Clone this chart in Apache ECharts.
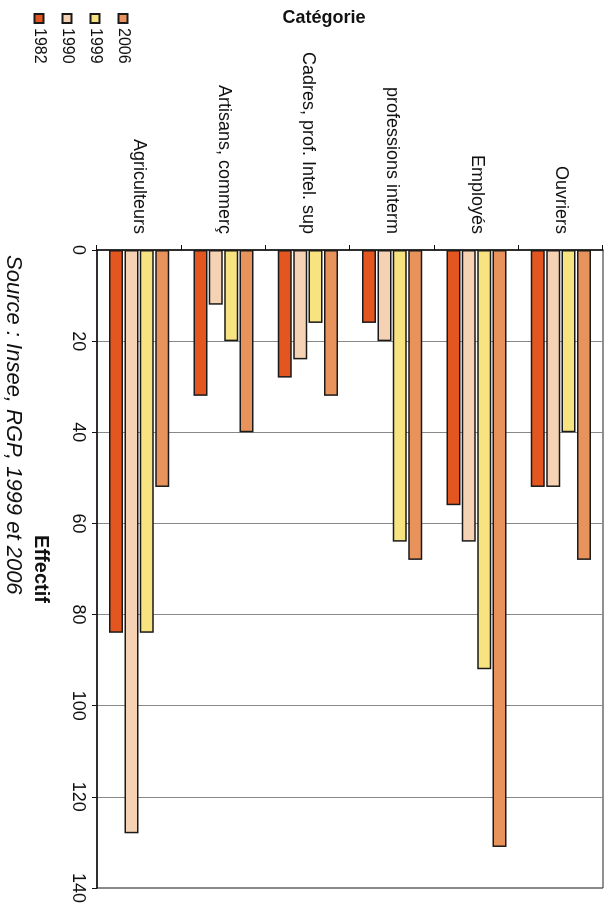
<!DOCTYPE html>
<html>
<head>
<meta charset="utf-8">
<script src="https://cdn.jsdelivr.net/npm/echarts@6/dist/echarts.min.js"></script>
<style>
html, body { margin:0; padding:0; width:606px; height:906px; overflow:hidden; background:#fff; }
#c { position:absolute; left:0; top:0; width:906px; height:606px; transform-origin:0 0; transform:translate(606px,0) rotate(90deg); }
</style>
</head>
<body>
<div id="c"></div>
<script>
const categories = ['Agriculteurs', 'Artisans, commerç', 'Cadres, prof. Intel. sup', 'professions interm', 'Employés', 'Ouvriers'];
const years = ['1982', '1990', '1999', '2006'];
const v1982 = [84, 32, 28, 16, 56, 52];
const v1990 = [128, 12, 24, 20, 64, 52];
const v1999 = [84, 20, 16, 64, 92, 40];
const v2006 = [52, 40, 32, 68, 131, 68];
const valueTicks = [0, 20, 40, 60, 80, 100, 120, 140];
const colors = ['#e4561f', '#f6d2b4', '#f7e380', '#e9935c'];
const FONT = "'Liberation Sans', Arial, sans-serif";

const chart = echarts.init(document.getElementById('c'), null, { renderer: 'canvas' });
const seriesValues = [v1982, v1990, v1999, v2006];
// horizontal layout places the first series at the top of each band, so add them in reverse
const order = [3, 2, 1, 0];
const option = {
  backgroundColor: '#ffffff',
  animation: false,
  textStyle: { fontFamily: FONT },
  grid: { left: 250, right: 18, top: 3, bottom: 97, show: true, borderColor: '#222', borderWidth: 1, backgroundColor: 'transparent' },
  legend: {
    orient: 'vertical', left: 8, top: 470,
    data: ['2006', '1999', '1990', '1982'],
    itemWidth: 9, itemHeight: 9, itemGap: 12,
    icon: 'rect',
    textStyle: { fontSize: 16, color: '#111', fontFamily: FONT }
  },
  xAxis: {
    type: 'value', min: valueTicks[0], max: valueTicks[valueTicks.length - 1], interval: 20,
    name: 'Effectif', nameLocation: 'middle', nameGap: 46,
    nameTextStyle: { fontSize: 20, fontWeight: 'bold', color: '#111', fontFamily: FONT },
    axisLine: { show: true, lineStyle: { color: '#111', width: 1.5 } },
    axisTick: { show: true, length: 5, lineStyle: { color: '#111' } },
    axisLabel: { fontSize: 18, color: '#111', margin: 10, fontFamily: FONT },
    splitLine: { show: true, lineStyle: { color: '#888', width: 1 } }
  },
  yAxis: {
    type: 'category', data: categories,
    axisLine: { show: true, lineStyle: { color: '#111', width: 1.5 } },
    axisTick: { show: true, length: 5, lineStyle: { color: '#111' } },
    axisLabel: { fontSize: 18, color: '#111', margin: 16, fontFamily: FONT }
  },
  graphic: [
    { type: 'text', x: 18, y: 282, rotation: Math.PI / 2,
      style: { text: 'Catégorie', font: 'bold 18px ' + FONT, fill: '#111', textAlign: 'center', textVerticalAlign: 'middle' } },
    { type: 'text', left: 255, top: 582,
      style: { text: 'Source : Insee, RGP, 1999 et 2006', font: 'italic 22px ' + FONT, fill: '#111' } }
  ],
  series: order.map(i => ({
    name: years[i], type: 'bar', data: seriesValues[i],
    barWidth: 14, barGap: '10%',
    itemStyle: { color: colors[i], borderColor: '#1a1a1a', borderWidth: 1.5 }
  }))
};
chart.setOption(option);
</script>
</body>
</html>
